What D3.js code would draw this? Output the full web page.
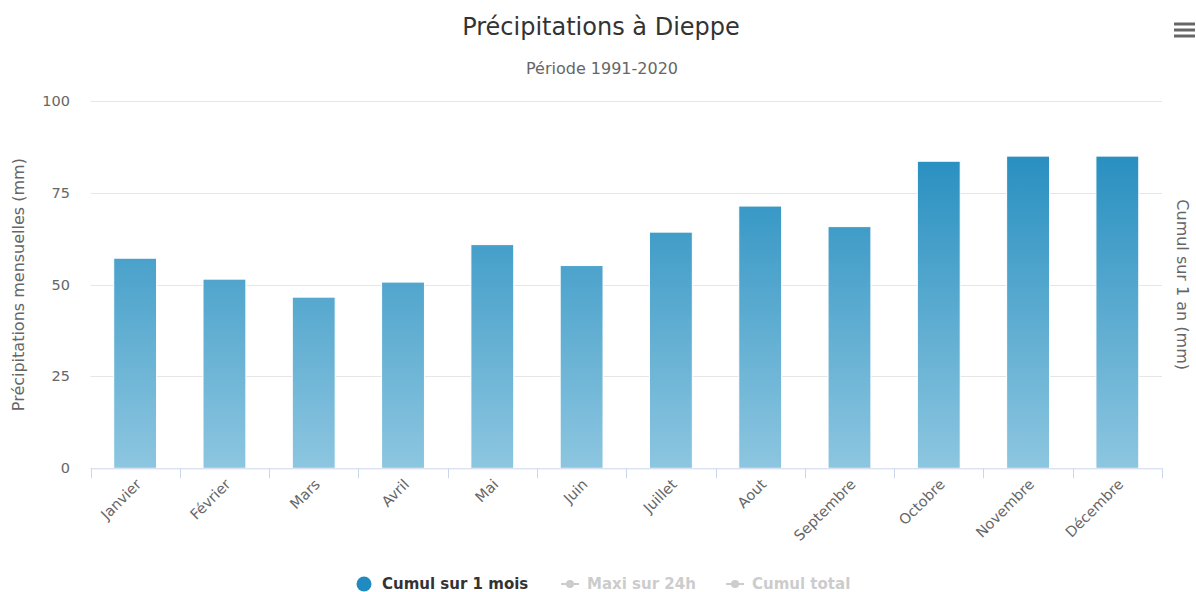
<!DOCTYPE html>
<html>
<head>
<meta charset="utf-8">
<script src="https://cdn.jsdelivr.net/npm/d3@7/dist/d3.min.js"></script>
<style>
  body { margin: 0; background: #fff; }
  svg { font-family: "DejaVu Sans", sans-serif; }
</style>
</head>
<body>
<svg id="chart" width="1196" height="592"></svg>
<script>
// data
const months = ["Janvier", "Février", "Mars", "Avril", "Mai", "Juin",
  "Juillet", "Aout", "Septembre", "Octobre", "Novembre", "Décembre"];
const cumulMois = [57.2, 51.5, 46.6, 50.7, 60.9, 55.2, 64.3, 71.4, 65.8, 83.6, 85.0, 85.0];
const yTicks = [0, 25, 50, 75, 100];
const legendItems = ["Cumul sur 1 mois", "Maxi sur 24h", "Cumul total"];

const svg = d3.select("#chart");
const plotLeft = 90.5, plotRight = 1162, plotTop = 101, plotBottom = 468.3;

const x = d3.scaleBand().domain(months).range([plotLeft, plotRight]).paddingInner(0).paddingOuter(0);
const y = d3.scaleLinear().domain([0, 100]).range([plotBottom, plotTop]);

// gradient over the whole plot height
const defs = svg.append("defs");
const grad = defs.append("linearGradient")
  .attr("id", "barGrad")
  .attr("gradientUnits", "userSpaceOnUse")
  .attr("x1", 0).attr("x2", 0)
  .attr("y1", y(100)).attr("y2", y(0));
grad.append("stop").attr("offset", "0%").attr("stop-color", "#1786bb");
grad.append("stop").attr("offset", "100%").attr("stop-color", "#8dc6e0");

// title
svg.append("text").attr("x", 601).attr("y", 35)
  .attr("text-anchor", "middle").attr("fill", "#333").attr("font-size", 24)
  .text("Précipitations à Dieppe");
svg.append("text").attr("x", 602).attr("y", 74)
  .attr("text-anchor", "middle").attr("fill", "#666").attr("font-size", 16)
  .text("Période 1991-2020");

// grid
svg.append("g").selectAll("line").data(yTicks.filter(d => d > 0)).join("line")
  .attr("x1", plotLeft).attr("x2", plotRight)
  .attr("y1", d => Math.round(y(d)) + 0.5).attr("y2", d => Math.round(y(d)) + 0.5)
  .attr("stroke", "#e6e6e6").attr("stroke-width", 1);

// y labels
svg.append("g").selectAll("text").data(yTicks).join("text")
  .attr("x", 70).attr("y", d => y(d) + 5)
  .attr("text-anchor", "end").attr("fill", "#666").attr("font-size", 14.5)
  .text(d => d);

// axis titles
svg.append("text")
  .attr("transform", `translate(24,${(plotTop + plotBottom) / 2}) rotate(-90)`)
  .attr("text-anchor", "middle").attr("fill", "#666").attr("font-size", 16)
  .text("Précipitations mensuelles (mm)");
svg.append("text")
  .attr("transform", `translate(1177,${(plotTop + plotBottom) / 2}) rotate(90)`)
  .attr("text-anchor", "middle").attr("fill", "#666").attr("font-size", 16)
  .text("Cumul sur 1 an (mm)");

// bars
const bw = x.bandwidth() * 0.48;
svg.append("g").selectAll("rect").data(months).join("rect")
  .attr("x", d => x(d) + (x.bandwidth() - bw) / 2)
  .attr("y", (d, i) => y(cumulMois[i]))
  .attr("width", bw)
  .attr("height", (d, i) => y(0) - y(cumulMois[i]))
  .attr("fill", "url(#barGrad)")
  .attr("stroke", "#fff").attr("stroke-width", 1);

// x axis
const xAxis = svg.append("g");
xAxis.append("line").attr("x1", plotLeft).attr("x2", plotRight)
  .attr("y1", plotBottom + 0.5).attr("y2", plotBottom + 0.5)
  .attr("stroke", "#ccd6eb");
xAxis.selectAll("line.tick").data(months.concat(["end"])).join("line")
  .attr("class", "tick")
  .attr("x1", (d, i) => Math.round(plotLeft + i * x.bandwidth()) + 0.5)
  .attr("x2", (d, i) => Math.round(plotLeft + i * x.bandwidth()) + 0.5)
  .attr("y1", plotBottom).attr("y2", plotBottom + 10)
  .attr("stroke", "#ccd6eb");
xAxis.selectAll("text").data(months).join("text")
  .attr("transform", d => `translate(${x(d) + x.bandwidth() / 2 + 7},${plotBottom + 17}) rotate(-45)`)
  .attr("text-anchor", "end").attr("fill", "#666").attr("font-size", 14.5)
  .text(d => d);

// legend
const lg = svg.append("g").attr("font-size", 15).attr("font-weight", "bold");
lg.append("circle").attr("cx", 364).attr("cy", 584).attr("r", 7.5).attr("fill", "#1f8bc0");
lg.append("text").attr("x", 382).attr("y", 589).attr("fill", "#333").text(legendItems[0]);
[[561, legendItems[1]], [726, legendItems[2]]].forEach(([lx, t]) => {
  lg.append("line").attr("x1", lx).attr("x2", lx + 18).attr("y1", 584).attr("y2", 584)
    .attr("stroke", "#ccc").attr("stroke-width", 2);
  lg.append("circle").attr("cx", lx + 9).attr("cy", 584).attr("r", 4).attr("fill", "#ccc");
  lg.append("text").attr("x", lx + 26).attr("y", 589).attr("fill", "#ccc").text(t);
});

// menu icon
svg.append("g").selectAll("line").data([0, 1, 2]).join("line")
  .attr("x1", 1174).attr("x2", 1195)
  .attr("y1", d => 24 + d * 6).attr("y2", d => 24 + d * 6)
  .attr("stroke", "#666").attr("stroke-width", 3);
</script>
</body>
</html>
